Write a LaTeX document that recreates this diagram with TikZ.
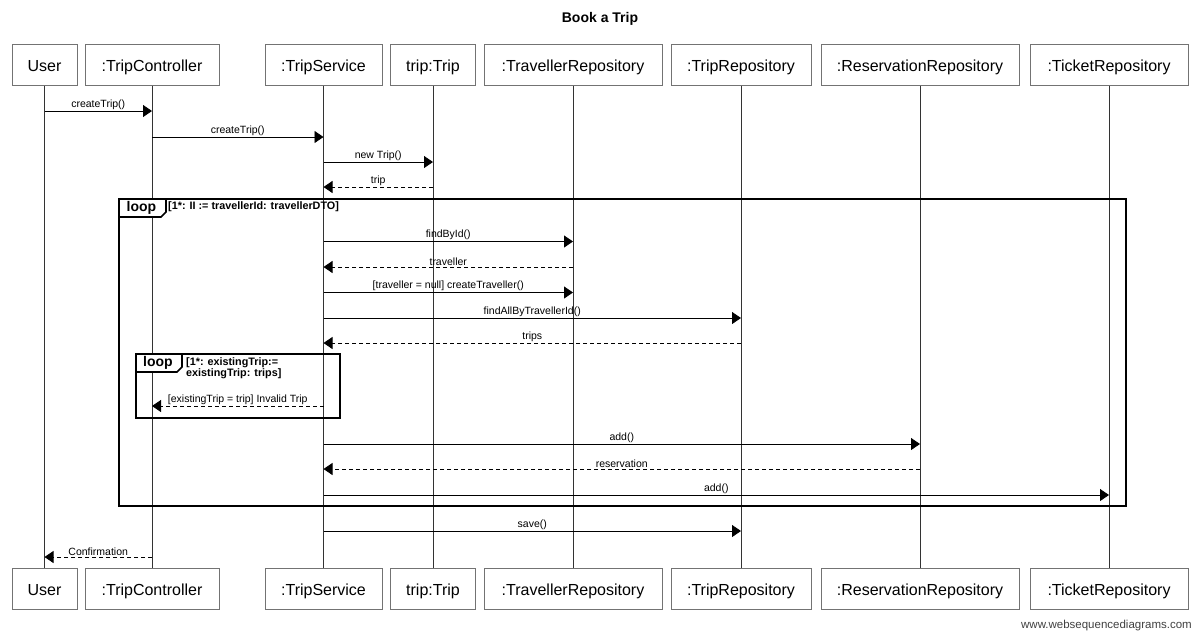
\documentclass[tikz,border=0pt]{standalone}
\usepackage{fontspec}
\setmainfont{Liberation Sans}
\usetikzlibrary{arrows.meta}
\tikzset{
  actor/.style={draw=black!55, line width=1pt, fill=white, minimum height=41pt, inner sep=0pt, text height=14pt, text depth=1pt, font=\fontsize{16}{18}\selectfont},
  lifeline/.style={draw=black!80, line width=1pt},
  msg/.style={draw=black, line width=0.9pt, -{Triangle[length=9pt,width=12pt]}},
  reply/.style={msg, dash pattern=on 4pt off 3pt},
  lbl/.style={font=\fontsize{10.5}{12}\selectfont, inner sep=1pt, above},
  frame/.style={draw=black, line width=1.6pt},
  tabtxt/.style={font=\bfseries\fontsize{14}{16}\selectfont, inner sep=0pt},
  condtxt/.style={font=\bfseries\fontsize{10.8}{11.5}\selectfont, inner sep=0pt, anchor=west, align=left}
}
\begin{document}
\begin{tikzpicture}[x=1pt,y=-1pt]
\useasboundingbox (0,0) rectangle (1200,638);
\node[font=\bfseries\fontsize{14}{16}\selectfont] (title) at (600,19) {Book a Trip};
% top boxes
\node[actor, minimum width=65pt]  (uT) at (44.5,64.5) {User};
\node[actor, minimum width=134pt] (cT) at (152,64.5) {:TripController};
\node[actor, minimum width=117pt] (sT) at (323.5,64.5) {:TripService};
\node[actor, minimum width=85pt]  (tT) at (433,64.5) {trip:Trip};
\node[actor, minimum width=178pt] (rT) at (573,64.5) {:TravellerRepository};
\node[actor, minimum width=140pt] (pT) at (741,64.5) {:TripRepository};
\node[actor, minimum width=198pt] (vT) at (920,64.5) {:ReservationRepository};
\node[actor, minimum width=158pt] (kT) at (1109,64.5) {:TicketRepository};
% bottom boxes
\node[actor, minimum width=65pt]  (uB) at (44.5,588.5) {User};
\node[actor, minimum width=134pt] (cB) at (152,588.5) {:TripController};
\node[actor, minimum width=117pt] (sB) at (323.5,588.5) {:TripService};
\node[actor, minimum width=85pt]  (tB) at (433,588.5) {trip:Trip};
\node[actor, minimum width=178pt] (rB) at (573,588.5) {:TravellerRepository};
\node[actor, minimum width=140pt] (pB) at (741,588.5) {:TripRepository};
\node[actor, minimum width=198pt] (vB) at (920,588.5) {:ReservationRepository};
\node[actor, minimum width=158pt] (kB) at (1109,588.5) {:TicketRepository};
% lifelines
\foreach \a in {u,c,s,t,r,p,v,k}
  \draw[lifeline] (\a T.south) -- (\a B.north);
% messages
\draw[msg] (uT |- 0,111) -- (cT |- 0,111) node[lbl, midway] {createTrip()};
\draw[msg] (cT |- 0,137) -- (sT |- 0,137) node[lbl, midway] {createTrip()};
\draw[msg] (sT |- 0,162) -- (tT |- 0,162) node[lbl, midway] {new Trip()};
\draw[reply] (tT |- 0,187) -- (sT |- 0,187) node[lbl, midway] {trip};
% outer loop
\draw[frame] (119,199) rectangle (1126,506);
\draw[frame, fill=white] (119,199) -- (166,199) -- (166,212) -- (161,217) -- (119,217) -- cycle;
\node[tabtxt] (loop1) at (141.5,208) {loop};
\node[condtxt] (cond1) at (168,207) {[1*: II := travellerId: travellerDTO]};
\draw[msg] (sT |- 0,241.5) -- (rT |- 0,241.5) node[lbl, midway] {findById()};
\draw[reply] (rT |- 0,267) -- (sT |- 0,267) node[lbl, midway] {traveller};
\draw[msg] (sT |- 0,292.5) -- (rT |- 0,292.5) node[lbl, midway] {[traveller = null] createTraveller()};
\draw[msg] (sT |- 0,318) -- (pT |- 0,318) node[lbl, midway] {findAllByTravellerId()};
\draw[reply] (pT |- 0,343) -- (sT |- 0,343) node[lbl, midway] {trips};
% inner loop
\draw[frame] (136,354) rectangle (340,418);
\draw[frame, fill=white] (136,354) -- (182,354) -- (182,367) -- (177,372) -- (136,372) -- cycle;
\node[tabtxt] (loop2) at (158,363) {loop};
\node[condtxt, anchor=north west] (cond2) at (186,357) {[1*: existingTrip:=\\existingTrip: trips]};
\draw[reply] (sT |- 0,406) -- (cT |- 0,406) node[lbl, midway] {[existingTrip = trip] Invalid Trip};
\draw[msg] (sT |- 0,444) -- (vT |- 0,444) node[lbl, midway] {add()};
\draw[reply] (vT |- 0,469) -- (sT |- 0,469) node[lbl, midway] {reservation};
\draw[msg] (sT |- 0,495) -- (kT |- 0,495) node[lbl, midway] {add()};
% after loop
\draw[msg] (sT |- 0,531) -- (pT |- 0,531) node[lbl, midway] {save()};
\draw[reply] (cT |- 0,557) -- (uT |- 0,557) node[lbl, midway] {Confirmation};
\node[anchor=east, text=black!75, font=\fontsize{11.5}{13}\selectfont, inner sep=0pt] (wm) at (1192,626) {www.websequencediagrams.com};
\end{tikzpicture}
\end{document}
